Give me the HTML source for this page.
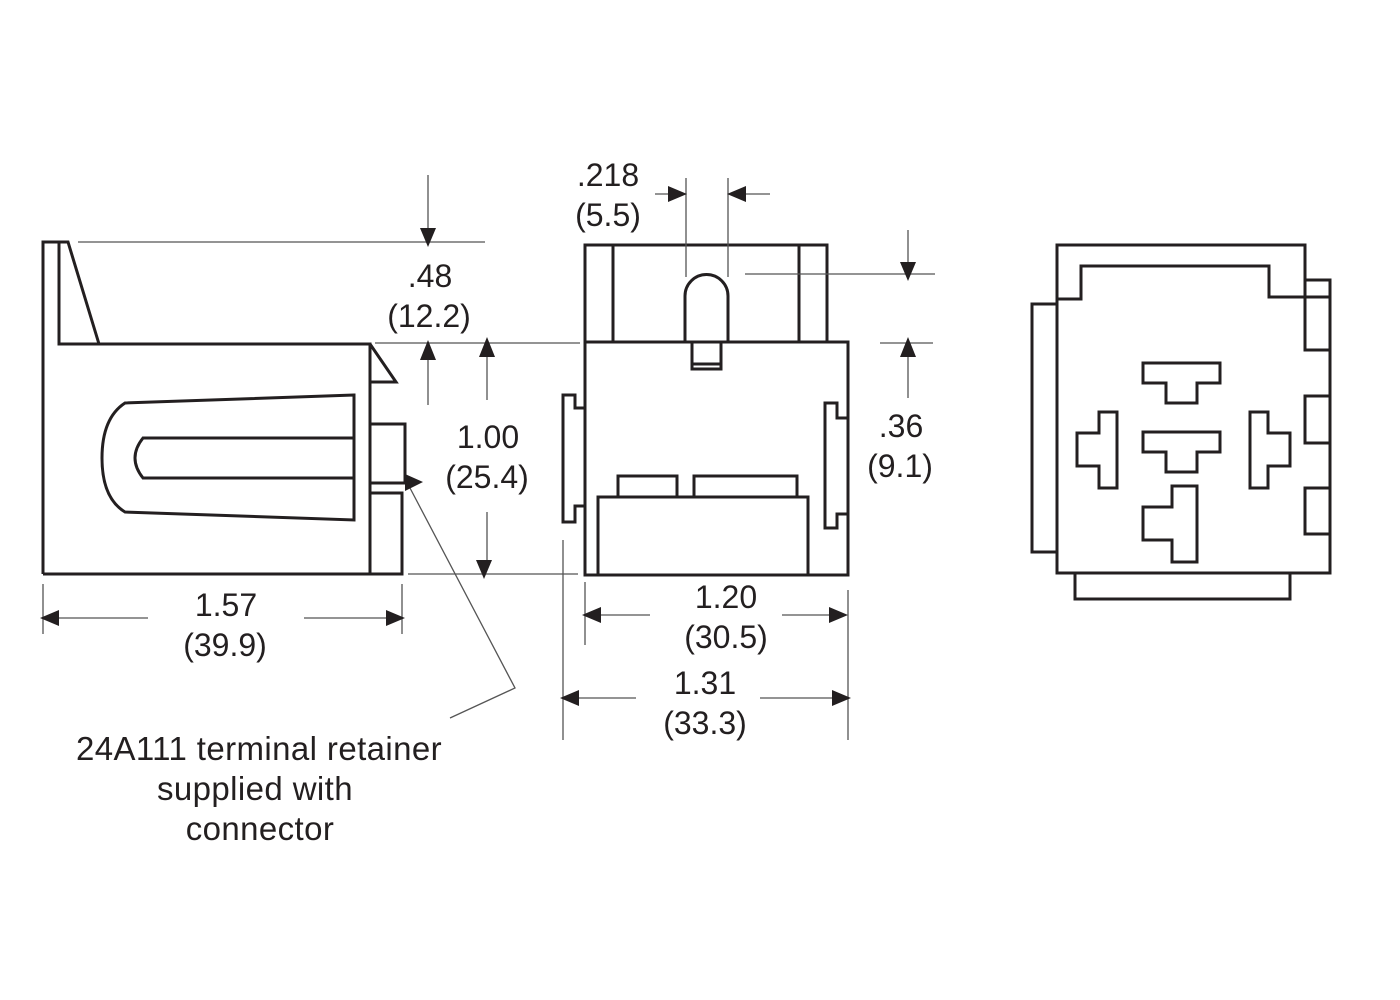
<!DOCTYPE html>
<html><head><meta charset="utf-8"><style>html,body{margin:0;padding:0;background:#fff}svg{display:block}text{font-family:"Liberation Sans",sans-serif;font-size:32px;fill:#231f20;text-anchor:middle}.lb{font-size:33px;letter-spacing:0.4px}</style></head>
<body>
<svg width="1400" height="1000" viewBox="0 0 1400 1000" xmlns="http://www.w3.org/2000/svg">
<g fill="none" stroke="#231f20" stroke-width="3" stroke-linejoin="miter">
<path d="M43,574 V242 H68 L99,344 M59,242 V344 H370 V574 M43,574 H402 V493 H370"/>
<path d="M370,344 L396,382 H370"/>
<path d="M370,424 H405 V483 H370"/>
<path d="M354,395 L125,403 Q102,418 102,458 Q102,498 125,512 L354,520 Z"/>
<path d="M354,438 H143 Q135,448 135,458 Q135,468 143,478 H354"/>
<path d="M585,342 V245 H827 V342 M613,245 V342 M799,245 V342"/>
<path d="M685,342 V296 A21.5,21.5 0 0 1 728,296 V342"/>
<path d="M692,342 V369 H721 V342 M692,364 H721"/>
<rect x="585" y="342" width="263" height="233"/>
<path d="M585,408 H575 V395 H563 V522 H575 V506 H585"/>
<path d="M848,418 H837 V403 H825 V528 H837 V514 H848"/>
<rect x="598" y="497" width="210" height="78"/>
<path d="M618,497 V476 H677 V497 M694,497 V476 H797 V497"/>
<path d="M1057,573 V245 H1305 V280 H1330 V573 Z"/>
<path d="M1057,299 H1081 V266 H1269 V297 H1330"/>
<path d="M1305,280 V350 H1330 M1330,396 H1305 V443 H1330 M1330,488 H1305 V534 H1330"/>
<rect x="1032" y="304" width="25" height="248"/>
<path d="M1075,573 V599 H1290 V573"/>
<path d="M1143,363 H1220 V383 H1197 V403 H1166 V383 H1143 Z"/>
<path d="M1143,432 H1220 V452 H1197 V472 H1166 V452 H1143 Z"/>
<path d="M1099,412 H1117 V488 H1099 V466 H1077 V433 H1099 Z"/>
<path d="M1250,412 H1268 V433 H1290 V466 H1268 V488 H1250 Z"/>
<path d="M1172,486 H1197 V562 H1172 V540 H1143 V507 H1172 Z"/>
</g>
<g fill="none" stroke="#555" stroke-width="1.3">
<path d="M78,242 H485 M375,343 H580 M408,574 H578 M428,175 V230 M428,405 V360 M487,400 V356 M487,512 V562"/>
<path d="M43,584 V634 M402,584 V634 M55,618 H148 M304,618 H392"/>
<path d="M655,194 H672 M770,194 H742 M686,178 V277 M728,178 V277 M745,274 H935 M880,343 H933 M908,230 V265 M908,398 V356"/>
<path d="M585,582 V645 M848,590 V740 M563,540 V740 M598,615 H650 M782,615 H835 M575,698 H636 M760,698 H838"/>
<path d="M410,488 L515,688 L450,718"/>
</g>
<g fill="#231f20">
<path d="M420,228 H436 L428,247 Z"/><path d="M420,360 H436 L428,340 Z"/>
<path d="M479,357 H495 L487,337 Z"/><path d="M476,560 H492 L484,579 Z"/>
<path d="M59,610 V626 L40,618 Z"/><path d="M386,610 V626 L405,618 Z"/>
<path d="M668,186 V202 L687,194 Z"/><path d="M746,186 V202 L727,194 Z"/>
<path d="M900,262 H916 L908,281 Z"/><path d="M900,357 H916 L908,337 Z"/>
<path d="M601,607 V623 L582,615 Z"/><path d="M829,607 V623 L848,615 Z"/>
<path d="M579,690 V706 L560,698 Z"/><path d="M832,690 V706 L851,698 Z"/>
<path d="M405,474 V491 L423,482 Z"/>
</g>
<text x="430" y="287">.48</text><text x="429" y="327">(12.2)</text>
<text x="488" y="448">1.00</text><text x="487" y="488">(25.4)</text>
<text x="226" y="616">1.57</text><text x="225" y="656">(39.9)</text>
<text x="608" y="186">.218</text><text x="608" y="226">(5.5)</text>
<text x="901" y="437">.36</text><text x="900" y="477">(9.1)</text>
<text x="726" y="608">1.20</text><text x="726" y="648">(30.5)</text>
<text x="705" y="694">1.31</text><text x="705" y="734">(33.3)</text>
<text class="lb" x="259" y="760">24A111 terminal retainer</text>
<text class="lb" x="255" y="800">supplied with</text>
<text class="lb" x="260" y="840">connector</text>
</svg>
</body></html>
